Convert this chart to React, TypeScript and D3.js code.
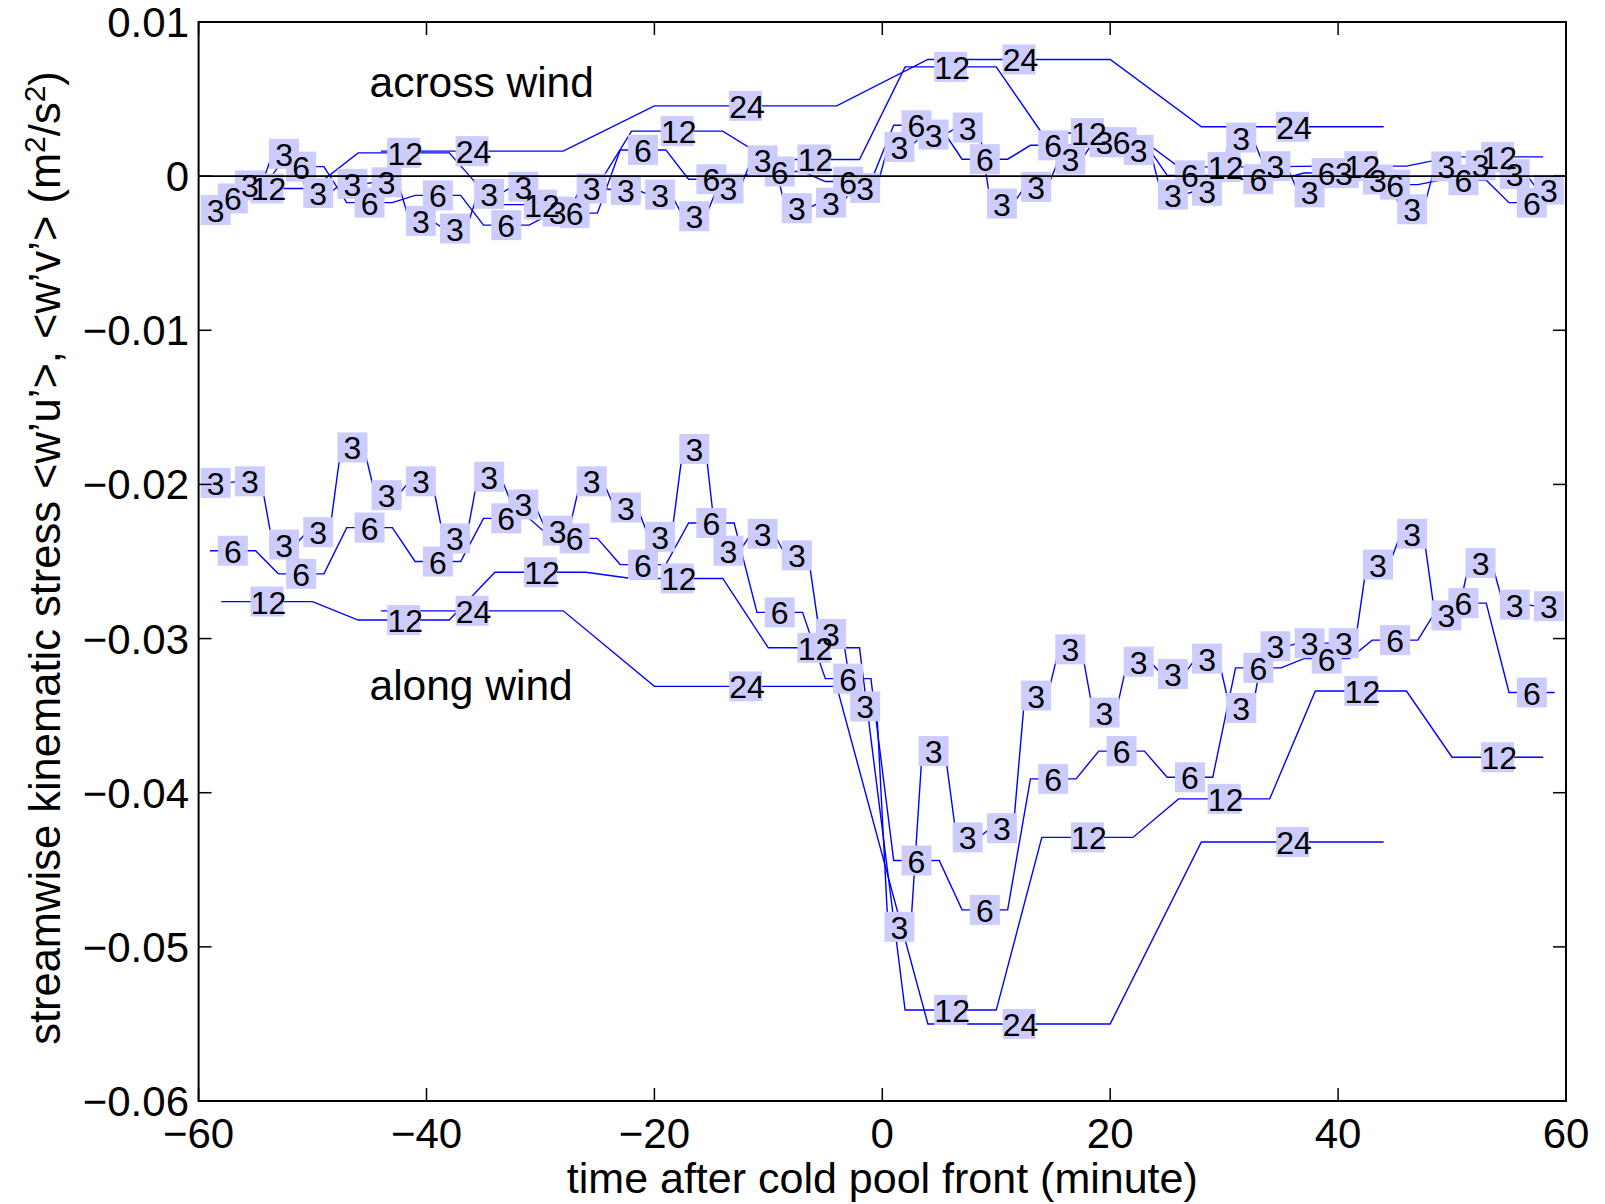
import React from 'react';
import * as d3 from 'd3';

// window centers (minutes) for each averaging window length
const centers3 = [-58.5, -55.5, -52.5, -49.5, -46.5, -43.5, -40.5, -37.5, -34.5, -31.5, -28.5, -25.5, -22.5, -19.5, -16.5, -13.5, -10.5, -7.5, -4.5, -1.5, 1.5, 4.5, 7.5, 10.5, 13.5, 16.5, 19.5, 22.5, 25.5, 28.5, 31.5, 34.5, 37.5, 40.5, 43.5, 46.5, 49.5, 52.5, 55.5, 58.5];
const centers6 = [-57, -51, -45, -39, -33, -27, -21, -15, -9, -3, 3, 9, 15, 21, 27, 33, 39, 45, 51, 57];
const centers12 = [-54, -42, -30, -18, -6, 6, 18, 30, 42, 54];
const centers24 = [-36, -12, 12, 36];

// along wind <w'u'>
const along3 = [-0.0199, -0.0198, -0.0239, -0.0231, -0.0176, -0.0207, -0.0198, -0.0235, -0.0195, -0.0213, -0.0230, -0.0198, -0.0215, -0.0234, -0.0177, -0.0243, -0.0232, -0.0246, -0.0297, -0.0344, -0.0487, -0.0373, -0.0429, -0.0423, -0.0337, -0.0307, -0.0348, -0.0315, -0.0323, -0.0313, -0.0345, -0.0305, -0.0303, -0.0303, -0.0252, -0.0232, -0.0285, -0.0251, -0.0278, -0.0279];
const along6 = [-0.0243, -0.0258, -0.0228, -0.0250, -0.0222, -0.0235, -0.0252, -0.0225, -0.0283, -0.0326, -0.0444, -0.0476, -0.0391, -0.0373, -0.0390, -0.0319, -0.0313, -0.0301, -0.0277, -0.0335];
const along12 = [-0.0276, -0.0288, -0.0257, -0.0261, -0.0306, -0.0541, -0.0429, -0.0404, -0.0334, -0.0377];
const along24 = [-0.0282, -0.0331, -0.0550, -0.0432];

// across wind <w'v'>
const across3 = [-0.0022, -0.0006, 0.00145, -0.0011, -0.0005, -0.0004, -0.0029, -0.0034, -0.00115, -0.00068, -0.0023, -0.0008, -0.0009, -0.0012, -0.0026, -0.0008, 0.00102, -0.00208, -0.00172, -0.00077, 0.0019, 0.0027, 0.00315, -0.00178, -0.0007, 0.00108, 0.0022, 0.0017, -0.0012, -0.00095, 0.0025, 0.00065, -0.00105, 0.0002, -0.00022, -0.00215, 0.00063, 0.0007, 0.00013, -0.00088];
const across6 = [-0.00145, 0.00062, -0.00172, -0.00125, -0.00318, -0.0024, 0.0017, -0.0002, 0.0003, -0.00035, 0.0033, 0.0011, 0.002, 0.0022, 0.00005, -0.0002, 0.0002, -0.00055, -0.00026, -0.00172];
const across12 = [-0.0008, 0.00151, -0.00185, 0.00292, 0.00108, 0.00709, 0.0028, 0.0006, 0.00065, 0.00125];
const across24 = [0.00162, 0.00456, 0.00757, 0.0032];

const xTicks = [-60, -40, -20, 0, 20, 40, 60];
const yTicks = [0.01, 0, -0.01, -0.02, -0.03, -0.04, -0.05, -0.06];
const yTickLabels = ['0.01', '0', '\u22120.01', '\u22120.02', '\u22120.03', '\u22120.04', '\u22120.05', '\u22120.06'];
const xTickLabels = ['\u221260', '\u221240', '\u221220', '0', '20', '40', '60'];

const seriesList = [
  { win: 3, centers: centers3, values: along3 },
  { win: 6, centers: centers6, values: along6 },
  { win: 12, centers: centers12, values: along12 },
  { win: 24, centers: centers24, values: along24 },
  { win: 3, centers: centers3, values: across3 },
  { win: 6, centers: centers6, values: across6 },
  { win: 12, centers: centers12, values: across12 },
  { win: 24, centers: centers24, values: across24 },
];

const FONT = '"Liberation Sans", Arial, Helvetica, sans-serif';

export default function App() {
  const L = 198.6, R = 1566, T = 22, B = 1101;
  const x = d3.scaleLinear().domain([-60, 60]).range([L, R]);
  const y = d3.scaleLinear().domain([-0.06, 0.01]).range([B, T]);
  const line = d3.line<[number, number]>().x(d => x(d[0])).y(d => y(d[1]));
  const tick = 13;

  const paths = seriesList.map(s => {
    const pts: [number, number][] = [];
    s.centers.forEach((c, i) => {
      pts.push([c - s.win / 3, s.values[i]]);
      pts.push([c + s.win / 3, s.values[i]]);
    });
    return line(pts) || '';
  });

  const labels: { x: number; y: number; t: string }[] = [];
  seriesList.forEach(s => {
    s.centers.forEach((c, i) => labels.push({ x: x(c), y: y(s.values[i]), t: String(s.win) }));
  });

  return (
    <svg width={1605} height={1204} style={{ position: 'absolute', left: 0, top: 0, display: 'block', background: '#fff' }} fontFamily={FONT}>
      <rect x={0} y={0} width={1605} height={1204} fill="#fff" />
      {paths.map((d, i) => (
        <path key={i} d={d} fill="none" stroke="#0000ff" strokeWidth={1.4} />
      ))}
      {labels.map((l, i) => {
        const w = l.t.length > 1 ? 33 : 30;
        return <rect key={'b' + i} x={l.x - w / 2} y={l.y - 15} width={w} height={30} fill="#ccccff" />;
      })}
      <line x1={x(-60)} x2={x(60)} y1={y(0)} y2={y(0)} stroke="#000" strokeWidth={1.7} />
      {labels.map((l, i) => (
        <text key={'t' + i} x={l.x + (l.t.length > 1 ? 1.5 : 0)} y={l.y + 12} fontSize={32} textAnchor="middle" fill="#000">{l.t}</text>
      ))}
      {/* axes box */}
      <rect x={L} y={T} width={R - L} height={B - T} fill="none" stroke="#000" strokeWidth={2} />
      {xTicks.map((t, i) => (
        <g key={'xt' + i}>
          <line x1={x(t)} x2={x(t)} y1={B} y2={B - tick} stroke="#000" strokeWidth={1.5} />
          <line x1={x(t)} x2={x(t)} y1={T} y2={T + tick} stroke="#000" strokeWidth={1.5} />
          <text x={x(t)} y={1148} fontSize={42} textAnchor="middle" fill="#000">{xTickLabels[i]}</text>
        </g>
      ))}
      {yTicks.map((t, i) => (
        <g key={'yt' + i}>
          <line x1={L} x2={L + tick} y1={y(t)} y2={y(t)} stroke="#000" strokeWidth={1.5} />
          <line x1={R} x2={R - tick} y1={y(t)} y2={y(t)} stroke="#000" strokeWidth={1.5} />
          <text x={189} y={y(t) + 15} fontSize={42} textAnchor="end" fill="#000">{yTickLabels[i]}</text>
        </g>
      ))}
      <text x={369.5} y={97} fontSize={42.5} fill="#000">across wind</text>
      <text x={369.5} y={700} fontSize={42.5} fill="#000">along wind</text>
      <text x={(L + R) / 2} y={1193} fontSize={43} textAnchor="middle" fill="#000">time after cold pool front (minute)</text>
      <text transform="translate(60,558) rotate(-90)" fontSize={43.5} textAnchor="middle" fill="#000">
        {'streamwise kinematic stress <w\u2019u\u2019>, <w\u2019v\u2019> (m'}
        <tspan fontSize={30} dy={-15}>2</tspan>
        <tspan dy={15}>/s</tspan>
        <tspan fontSize={30} dy={-15}>2</tspan>
        <tspan dy={15}>)</tspan>
      </text>
    </svg>
  );
}
